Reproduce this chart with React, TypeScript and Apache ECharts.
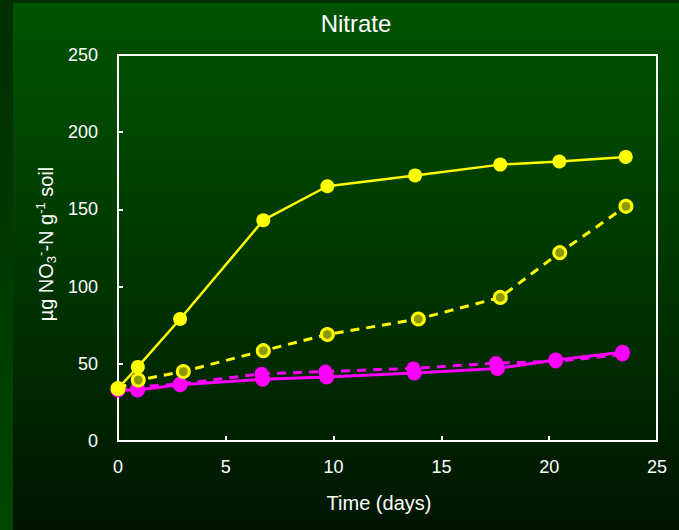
import React, { useEffect, useRef } from "react";
import * as echarts from "echarts";

const xTicks = [0, 5, 10, 15, 20, 25];
const yTicks = [0, 50, 100, 150, 200, 250];

const yellowSolidDays = [0, 0.92, 2.88, 6.74, 9.71, 13.78, 17.73, 20.47, 23.55];
const yellowSolidVals = [34, 48, 79, 143, 165, 172, 179, 181, 184];

const yellowDashDays = [0, 0.94, 3.03, 6.74, 9.71, 13.93, 17.73, 20.49, 23.56];
const yellowDashVals = [34, 39.5, 45, 58.5, 69, 79, 93, 122, 152];

const magentaSolidDays = [0, 0.91, 2.88, 6.71, 9.68, 13.75, 17.6, 20.3, 23.4];
const magentaSolidVals = [33, 33, 36.5, 40, 41.5, 44, 47, 52.5, 57.5];

const magentaDashDays = [0, 0.91, 2.88, 6.66, 9.62, 13.7, 17.53, 20.3, 23.4];
const magentaDashVals = [33, 35, 37, 43.5, 45, 47, 50.5, 51.5, 56];

const FONT = "Liberation Sans, Arial, sans-serif";

function pairs(xs: number[], ys: number[]) {
  return xs.map((x, i) => [x, ys[i]]);
}

export default function App() {
  const ref = useRef<HTMLDivElement>(null);
  useEffect(() => {
    if (!ref.current) return;
    const chart = echarts.init(ref.current, undefined, { renderer: "svg" });
    const W = 679;
    const H = 530;
    chart.setOption({
      animation: false,
      backgroundColor: "#002a00",
      graphic: {
        elements: [
          {
            type: "rect",
            z: -10,
            shape: { x: 0, y: 0, width: 13, height: H },
            style: {
              fill: new echarts.graphic.LinearGradient(0, 0, 0, 1, [
                { offset: 0, color: "#002e00" },
                { offset: 1, color: "#004600" },
              ]),
            },
            silent: true,
          },
          {
            type: "rect",
            z: -10,
            shape: { x: 13, y: 0, width: W - 13, height: 3 },
            style: { fill: "#003000" },
            silent: true,
          },
          {
            type: "rect",
            z: -10,
            shape: { x: 13, y: 3, width: W - 13, height: H - 3 },
            style: {
              fill: new echarts.graphic.LinearGradient(0, 0, 0, 1, [
                { offset: 0, color: "#005300" },
                { offset: 0.5, color: "#003700" },
                { offset: 1, color: "#001400" },
              ]),
            },
            silent: true,
          },
          {
            type: "text",
            z: 10,
            x: 356,
            y: 23,
            style: {
              text: "Nitrate",
              fill: "#ffffff",
              font: `24px ${FONT}`,
              align: "center",
              verticalAlign: "middle",
            },
          },
          {
            type: "text",
            z: 10,
            x: 379,
            y: 503,
            style: {
              text: "Time (days)",
              fill: "#ffffff",
              font: `20px ${FONT}`,
              align: "center",
              verticalAlign: "middle",
            },
          },
          {
            type: "text",
            z: 10,
            x: 46,
            y: 244,
            rotation: Math.PI / 2,
            style: {
              text: "{b|µg NO}{sub|3}{sup|-}{b|-N g}{sup|-1}{b| soil}",
              fill: "#ffffff",
              align: "center",
              verticalAlign: "middle",
              rich: {
                b: { fontSize: 20, fontFamily: FONT, color: "#ffffff", lineHeight: 24 },
                sub: {
                  fontSize: 13,
                  fontFamily: FONT,
                  color: "#ffffff",
                  lineHeight: 13,
                  verticalAlign: "bottom",
                },
                sup: {
                  fontSize: 13,
                  fontFamily: FONT,
                  color: "#ffffff",
                  lineHeight: 13,
                  verticalAlign: "top",
                },
              },
            },
          },
        ],
      },
      grid: {
        left: 118,
        right: W - 657,
        top: 55,
        bottom: H - 441,
        show: true,
        borderColor: "#ffffff",
        borderWidth: 2,
        backgroundColor: "transparent",
      },
      xAxis: {
        type: "value",
        min: xTicks[0],
        max: xTicks[xTicks.length - 1],
        interval: 5,
        axisLine: { show: true, lineStyle: { color: "#ffffff", width: 2 } },
        axisTick: { show: true, inside: true, length: 5, lineStyle: { color: "#ffffff", width: 2 } },
        axisLabel: { color: "#ffffff", fontSize: 18, fontFamily: FONT, margin: 17 },
        splitLine: { show: false },
      },
      yAxis: {
        type: "value",
        min: yTicks[0],
        max: yTicks[yTicks.length - 1],
        interval: 50,
        axisLine: { show: true, lineStyle: { color: "#ffffff", width: 2 } },
        axisTick: { show: true, inside: true, length: 5, lineStyle: { color: "#ffffff", width: 2 } },
        axisLabel: { color: "#ffffff", fontSize: 18, fontFamily: FONT, margin: 20 },
        splitLine: { show: false },
      },
      series: [
        {
          type: "line",
          name: "magenta dashed",
          data: pairs(magentaDashDays, magentaDashVals),
          symbol: "circle",
          symbolSize: 14,
          itemStyle: { color: "#ff00ff" },
          lineStyle: { color: "#ff00ff", width: 3, type: [9, 7] },
          z: 2,
        },
        {
          type: "line",
          name: "magenta solid",
          data: pairs(magentaSolidDays, magentaSolidVals),
          symbol: "circle",
          symbolSize: 15,
          itemStyle: { color: "#ff00ff" },
          lineStyle: { color: "#ff00ff", width: 3 },
          z: 3,
        },
        {
          type: "line",
          name: "yellow dashed",
          data: pairs(yellowDashDays, yellowDashVals),
          symbol: "circle",
          symbolSize: 12,
          itemStyle: { color: "#8c9a00", borderColor: "#ffff00", borderWidth: 3 },
          lineStyle: { color: "#ffff00", width: 3, type: [9, 7] },
          z: 4,
        },
        {
          type: "line",
          name: "yellow solid",
          data: pairs(yellowSolidDays, yellowSolidVals),
          symbol: "circle",
          symbolSize: 14,
          itemStyle: { color: "#ffff00" },
          lineStyle: { color: "#ffff00", width: 2.5 },
          z: 5,
        },
      ],
    });
    return () => chart.dispose();
  }, []);
  return (
    <div
      ref={ref}
      style={{ position: "absolute", left: 0, top: 0, width: 679, height: 530 }}
    />
  );
}
